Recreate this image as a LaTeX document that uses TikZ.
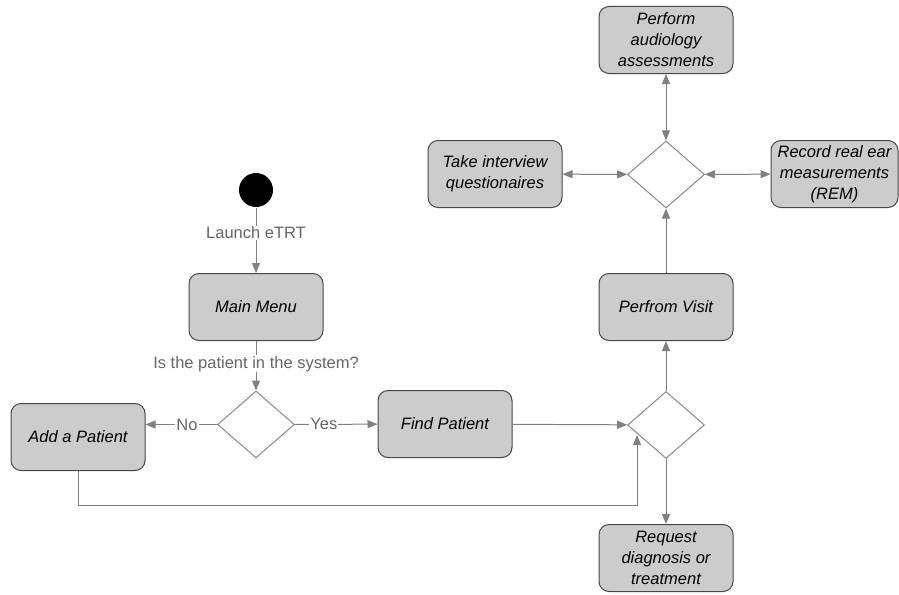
\documentclass[tikz,border=0pt]{standalone}
\usepackage{fontspec}
\setmainfont{Liberation Sans}
\usetikzlibrary{shapes.geometric,arrows.meta}
\definecolor{boxfill}{HTML}{CCCCCC}
\definecolor{boxline}{HTML}{474747}
\definecolor{arrline}{HTML}{808080}
\definecolor{diamondline}{HTML}{8A8A8A}
\definecolor{labeltext}{HTML}{666666}
\begin{document}
\begin{tikzpicture}[x=1pt,y=-1pt,line width=1pt,>={Triangle[length=10pt,width=8pt]}]
      \useasboundingbox (0,0) rectangle (899,594);

      \node[circle,fill=black,minimum size=34pt,inner sep=0] (0) at (256,190) {};

      \begin{scope}[every node/.style={rectangle,rounded corners=10pt,draw=boxline,fill=boxfill,minimum width=134pt,minimum height=67pt,align=center,font=\fontsize{16.5}{21}\selectfont\itshape}]
        \node (1)  at (256,307) {Main Menu};
        \node (3)  at (78,437) {Add a Patient};
        \node (4)  at (445,424) {Find Patient};
        \node (6)  at (666,307) {Perfrom Visit};
        \node (7)  at (666,558) {Request\\diagnosis or\\treatment};
        \node (9)  at (666,40) {Perform\\audiology\\assessments};
        \node (10) at (495,174) {Take interview\\questionaires};
        \node[minimum width=127pt] (11) at (834.5,174) {Record real ear\\measurements\\(REM)};
      \end{scope}

      \begin{scope}[every node/.style={diamond,draw=diamondline,fill=white,minimum width=77pt,minimum height=67pt,inner sep=0}]
        \node (2) at (256,424.5) {};
        \node (5) at (666,425) {};
        \node (8) at (666,174.5) {};
      \end{scope}

      \coordinate (12) at (637,435);

      \begin{scope}[every node/.style={fill=white,text=labeltext,inner sep=1pt,font=\fontsize{16.5}{20}\selectfont}]

        \begin{scope}[every edge/.style={draw=arrline,->}]
          \path (0)  edge node[pos=.39] {Launch eTRT} (1);
          \path (1)  edge node[pos=.46] {Is the patient in the system?} (2);
          \path (2)  edge node[pos=.42] {No} (3.east |- 2);
          \path (2)  edge node[pos=.35] {Yes} (4);
          \path (4)  edge (5);
          \path (5)  edge (6);
          \path (5)  edge (7);
          \path (6)  edge (8);
          \path (8)  edge[<->] (9);
          \path (8)  edge[<->] (10);
          \path (8)  edge[<->] (11);
        \end{scope}
        \draw[arrline,->] (3) |- (637,505) -- (12);
      \end{scope}

    \end{tikzpicture}
\end{document}
